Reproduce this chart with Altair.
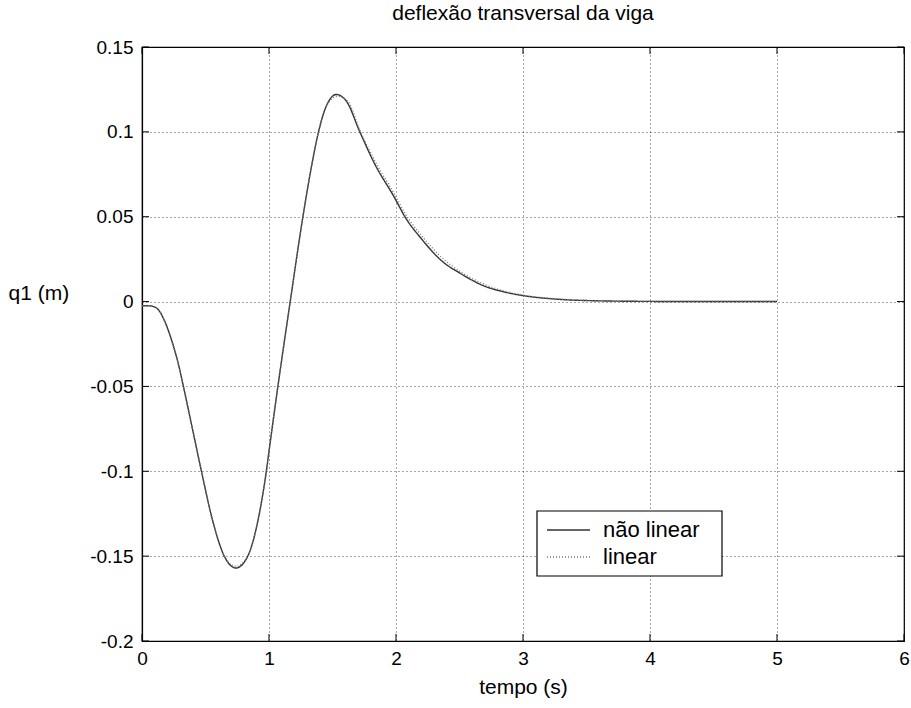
import altair as alt
import pandas as pd

# ---- data ----
t_nl = [0.0, 0.07, 0.1, 0.129, 0.18, 0.234, 0.287, 0.326, 0.40, 0.468, 0.556, 0.648,
        0.74, 0.833, 0.913, 0.979, 1.004, 1.07, 1.167, 1.267, 1.333, 1.39,
        1.45, 1.53, 1.61, 1.715, 1.833, 1.99, 2.07, 2.2, 2.36, 2.52, 2.70, 2.835,
        3.01, 3.23, 3.5, 4.0, 4.5, 5.0]
q_nl = [-0.0024, -0.0026, -0.0032, -0.0048, -0.0118, -0.023, -0.037, -0.05, -0.076, -0.1,
        -0.129, -0.15, -0.157, -0.15, -0.129, -0.1, -0.086, -0.05, 0.0, 0.05,
        0.079, 0.1, 0.115, 0.122, 0.118, 0.1, 0.081, 0.061, 0.05, 0.037, 0.024, 0.016,
        0.009, 0.006, 0.0034, 0.0016, 0.0006, 0.0001, 0.0, 0.0]

t_lin = [0.0, 0.07, 0.1, 0.129, 0.18, 0.234, 0.287, 0.326, 0.40, 0.468, 0.556, 0.648,
         0.74, 0.833, 0.913, 0.979, 1.004, 1.07, 1.167, 1.267, 1.333, 1.39,
         1.45, 1.54, 1.62, 1.715, 1.833, 1.99, 2.07, 2.2, 2.36, 2.52, 2.70, 2.835,
         3.01, 3.23, 3.5, 4.0, 4.5, 5.0]
q_lin = [-0.0024, -0.0026, -0.0032, -0.0048, -0.0118, -0.023, -0.037, -0.05, -0.076, -0.1,
         -0.129, -0.15, -0.156, -0.15, -0.129, -0.1, -0.086, -0.05, 0.0, 0.05,
         0.079, 0.1, 0.115, 0.121, 0.118, 0.101, 0.083, 0.063, 0.052, 0.039, 0.026,
         0.017, 0.010, 0.0065, 0.0037, 0.0018, 0.0007, 0.0001, 0.0, 0.0]

series_names = ["não linear", "linear"]
x_ticks = [0, 1, 2, 3, 4, 5, 6]
y_ticks = [-0.2, -0.15, -0.1, -0.05, 0, 0.05, 0.1, 0.15]

df = pd.concat([
    pd.DataFrame({"t": t_nl, "q": q_nl, "serie": series_names[0], "ord": range(len(t_nl))}),
    pd.DataFrame({"t": t_lin, "q": q_lin, "serie": series_names[1], "ord": range(len(t_lin))}),
])

FONT = "Liberation Sans"
LINE_COLORS = ["#333333", "#777777"]
W, H = 762, 594

x_scale = alt.Scale(domain=[0, 6], nice=False, zero=False)
y_scale = alt.Scale(domain=[-0.2, 0.15], nice=False, zero=False)

x_enc = alt.X("t:Q", scale=x_scale,
              axis=alt.Axis(values=x_ticks, title="tempo (s)", format="d",
                            grid=True, gridColor="#000000", gridDash=[1, 3],
                            gridOpacity=0.7, gridWidth=1,
                            domain=True, domainColor="#000000", domainWidth=1.2,
                            ticks=True, tickSize=0, labelFlush=False,
                            labelFont=FONT, labelFontSize=19, labelColor="#000000",
                            labelPadding=8,
                            titleFont=FONT, titleFontSize=21, titleFontWeight="normal",
                            titleColor="#000000", titlePadding=8))

y_enc = alt.Y("q:Q", scale=y_scale,
              axis=alt.Axis(values=y_ticks, title="q1 (m)",
                            labelExpr="replace(format(datum.value, '.2~f'), '−', '-')",
                            grid=True, gridColor="#000000", gridDash=[1, 3],
                            gridOpacity=0.7, gridWidth=1,
                            domain=True, domainColor="#000000", domainWidth=1.2,
                            ticks=True, tickSize=0, labelFlush=False,
                            labelFont=FONT, labelFontSize=19, labelColor="#000000",
                            labelPadding=9,
                            titleFont=FONT, titleFontSize=21, titleFontWeight="normal",
                            titleColor="#000000", titleAngle=0,
                            titleAlign="left", titleBaseline="middle",
                            titleX=-134, titleY=246))

lines = alt.Chart(df).mark_line(strokeWidth=1.4, interpolate="monotone").encode(
    x=x_enc,
    y=y_enc,
    order="ord:Q",
    color=alt.Color("serie:N", scale=alt.Scale(domain=series_names, range=LINE_COLORS),
                    legend=None),
    strokeDash=alt.StrokeDash("serie:N",
                              scale=alt.Scale(domain=series_names, range=[[1, 0], [1, 2]]),
                              legend=None),
)

# ---- MATLAB-style inward tick marks on all four sides ----
xt_df = pd.DataFrame({"t": x_ticks})
yt_df = pd.DataFrame({"q": y_ticks})
tick_b = alt.Chart(xt_df).mark_rule(color="#000000", strokeWidth=1).encode(
    x=alt.X("t:Q", scale=x_scale), y=alt.value(H), y2=alt.value(H - 7))
tick_t = alt.Chart(xt_df).mark_rule(color="#000000", strokeWidth=1).encode(
    x=alt.X("t:Q", scale=x_scale), y=alt.value(0), y2=alt.value(7))
tick_l = alt.Chart(yt_df).mark_rule(color="#000000", strokeWidth=1).encode(
    y=alt.Y("q:Q", scale=y_scale), x=alt.value(0), x2=alt.value(7))
tick_r = alt.Chart(yt_df).mark_rule(color="#000000", strokeWidth=1).encode(
    y=alt.Y("q:Q", scale=y_scale), x=alt.value(W), x2=alt.value(W - 7))

# ---- hand-drawn legend box (MATLAB style) ----
leg_df = pd.DataFrame({"serie": series_names})
box = alt.Chart(leg_df.head(1)).mark_rect(fill="#ffffff", stroke="#000000", strokeWidth=1.2).encode(
    x=alt.value(395), x2=alt.value(580), y=alt.value(464), y2=alt.value(529))
sym1 = alt.Chart(leg_df.head(1)).mark_rule(strokeWidth=1.4, color=LINE_COLORS[0]).encode(
    x=alt.value(405), x2=alt.value(448), y=alt.value(483))
sym2 = alt.Chart(leg_df.tail(1)).mark_rule(strokeWidth=1.4, color=LINE_COLORS[1], strokeDash=[1, 2]).encode(
    x=alt.value(405), x2=alt.value(448), y=alt.value(510))
lab1 = alt.Chart(leg_df.head(1)).mark_text(align="left", baseline="middle", font=FONT,
                                          fontSize=22, color="#000000").encode(
    x=alt.value(461), y=alt.value(483), text="serie:N")
lab2 = alt.Chart(leg_df.tail(1)).mark_text(align="left", baseline="middle", font=FONT,
                                          fontSize=22, color="#000000").encode(
    x=alt.value(461), y=alt.value(510), text="serie:N")

chart = alt.layer(lines, tick_b, tick_t, tick_l, tick_r, box, sym1, sym2, lab1, lab2).properties(
    width=W,
    height=H,
    title=alt.Title("deflexão transversal da viga", font=FONT, fontSize=21,
                    fontWeight="normal", color="#000000", anchor="middle", offset=14),
    padding={"left": 142, "top": 47, "right": 7, "bottom": 67},
    autosize=alt.AutoSizeParams(type="none"),
    background="#ffffff",
).configure_view(
    stroke="#000000", strokeWidth=1.2
)

chart.save("out.html", embed_options={"renderer": "svg", "actions": False})
